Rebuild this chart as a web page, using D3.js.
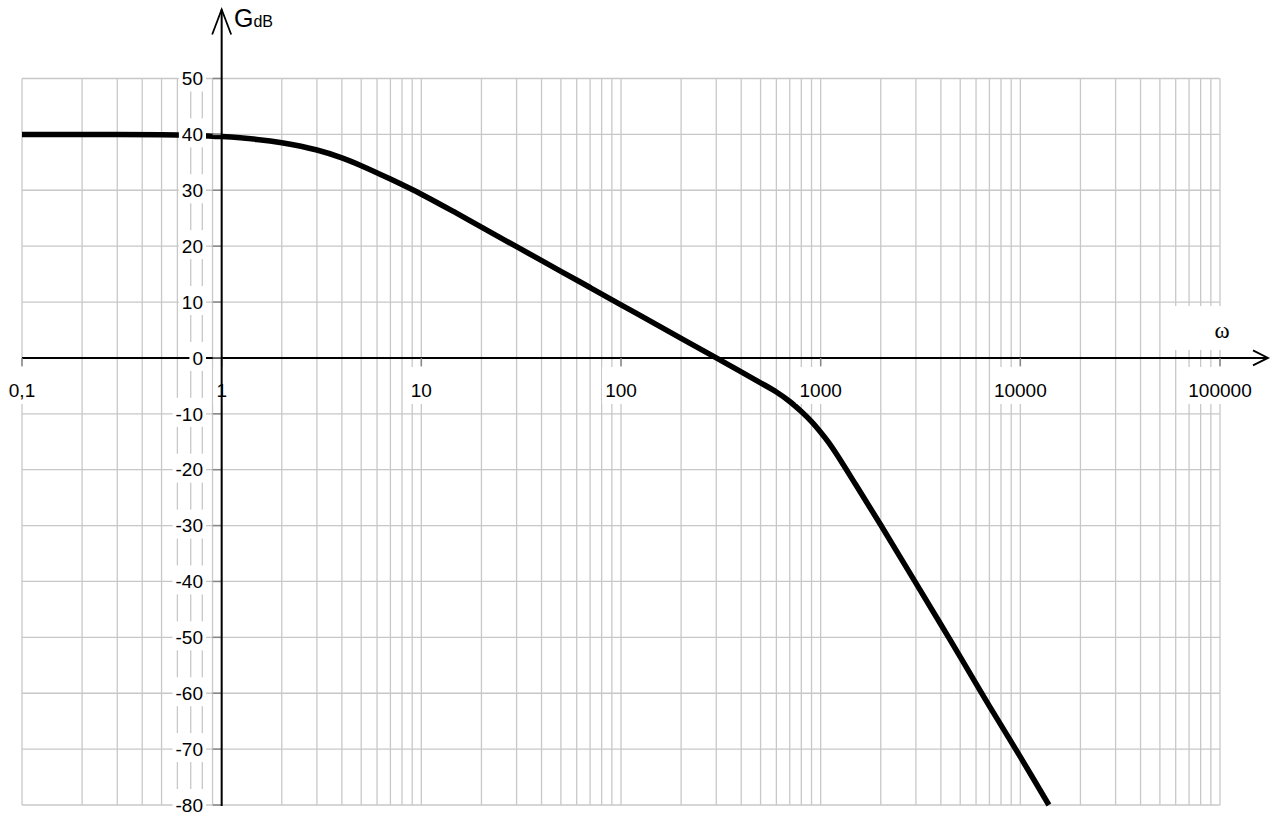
<!DOCTYPE html>
<html>
<head>
<meta charset="utf-8">
<script src="https://cdn.jsdelivr.net/npm/d3@7"></script>
<style>
  html, body { margin: 0; padding: 0; background: #fff; }
  svg { display: block; }
  text { font-family: "Liberation Sans", Arial, sans-serif; fill: #000; }
</style>
</head>
<body>
<svg id="chart" width="1282" height="816"></svg>
<script>
// ---- data ----
const omega = [0.1, 0.3, 0.5, 0.7, 1, 1.5, 2, 3, 4, 5, 7, 10, 15, 20, 30, 50, 70, 100, 150, 200, 300, 400, 500, 600, 700, 800, 900, 1000, 1100, 1200, 1500, 2000, 3000, 4000, 5000, 7000, 10000, 13900];
const gainDb = [40, 39.97, 39.92, 39.82, 39.6, 39.1, 38.5, 37.2, 35.8, 34.4, 32.0, 29.3, 25.9, 23.4, 19.9, 15.5, 12.6, 9.5, 6.0, 3.5, 0.0, -2.5, -4.45, -6.1, -7.8, -9.6, -11.4, -13.3, -15.2, -17.2, -22.7, -29.9, -40.3, -47.7, -53.5, -62.3, -71.4, -80];

const xTickValues = [0.1, 1, 10, 100, 1000, 10000, 100000];
const xTickLabels = ["0,1", "1", "10", "100", "1000", "10000", "100000"];
const yTickValues = [50, 40, 30, 20, 10, 0, -10, -20, -30, -40, -50, -60, -70, -80];
const yTickLabels = ["50", "40", "30", "20", "10", "0", "-10", "-20", "-30", "-40", "-50", "-60", "-70", "-80"];

// ---- layout ----
const svg = d3.select("#chart");
const x = d3.scaleLog().domain([0.1, 100000]).range([22, 1220]);
const y = d3.scaleLinear().domain([-80, 50]).range([805, 78.5]);
const x0 = x(1);     // vertical axis position
const y0 = y(0);     // horizontal axis position

// ---- grid ----
const minorX = [];
for (let e = -1; e <= 4; e++) {
  for (let m = 1; m <= 9; m++) minorX.push(m * Math.pow(10, e));
}
minorX.push(100000);

const grid = svg.append("g").attr("class", "grid")
  .attr("stroke", "#c8c8c8").attr("stroke-width", 1.3).attr("fill", "none");
grid.selectAll("line.v").data(minorX).join("line")
  .attr("class", "v")
  .attr("x1", d => x(d)).attr("x2", d => x(d))
  .attr("y1", y(50)).attr("y2", y(-80));
grid.selectAll("line.h").data(yTickValues).join("line")
  .attr("class", "h")
  .attr("x1", x(0.1)).attr("x2", x(100000))
  .attr("y1", d => y(d)).attr("y2", d => y(d));

// ---- curve ----
const pts = omega.map((w, i) => [w, gainDb[i]]);
const line = d3.line()
  .x(d => x(d[0])).y(d => y(d[1]))
  .curve(d3.curveCatmullRom.alpha(0.5));
svg.append("path")
  .datum(pts)
  .attr("d", line)
  .attr("fill", "none")
  .attr("stroke", "#000")
  .attr("stroke-width", 5.5)
  .attr("stroke-linejoin", "round");

// ---- horizontal axis ----
const axX = svg.append("g");
axX.append("line")
  .attr("x1", x(0.1)).attr("x2", 1268)
  .attr("y1", y0).attr("y2", y0)
  .attr("stroke", "#000").attr("stroke-width", 2);
axX.append("path")
  .attr("d", `M1253,${y0 - 7.5} L1268,${y0} L1253,${y0 + 7.5}`)
  .attr("fill", "none").attr("stroke", "#000").attr("stroke-width", 1.8);
axX.selectAll("line.tick").data(xTickValues).join("line")
  .attr("class", "tick")
  .attr("x1", d => x(d)).attr("x2", d => x(d))
  .attr("y1", y0).attr("y2", y0 + 8)
  .attr("stroke", "#888").attr("stroke-width", 1.5);

// ---- labels with white backgrounds ----
const labels = svg.append("g");
// x tick labels
xTickValues.forEach((v, i) => {
  const g = labels.append("g");
  const t = g.append("text")
    .attr("x", x(v)).attr("y", 397)
    .attr("text-anchor", "middle")
    .attr("font-size", 19)
    .text(xTickLabels[i]);
  const w = t.node().getComputedTextLength();
  g.insert("rect", "text")
    .attr("x", x(v) - w / 2 - 3).attr("y", 367)
    .attr("width", w + 6).attr("height", 37)
    .attr("fill", "#fff");
});
// y tick labels
yTickValues.forEach((v, i) => {
  const g = labels.append("g");
  const t = g.append("text")
    .attr("x", 203).attr("y", y(v) + 6.8)
    .attr("text-anchor", "end")
    .attr("font-size", 19)
    .text(yTickLabels[i]);
  const w = t.node().getComputedTextLength();
  g.insert("rect", "text")
    .attr("x", 203 - w - 3).attr("y", y(v) - 16)
    .attr("width", w + 6).attr("height", 29)
    .attr("fill", "#fff");
});
// y ticks
svg.append("g").selectAll("line").data(yTickValues).join("line")
  .attr("x1", x0 - 9).attr("x2", x0)
  .attr("y1", d => y(d)).attr("y2", d => y(d))
  .attr("stroke", "#888").attr("stroke-width", 1.5);

// omega label
svg.append("rect")
  .attr("x", 1171).attr("y", 306).attr("width", 70).attr("height", 44)
  .attr("fill", "#fff");
svg.append("text")
  .attr("x", 1222).attr("y", 338)
  .attr("text-anchor", "middle")
  .attr("font-size", 23)
  .style("font-family", "'Liberation Serif', 'Times New Roman', serif")
  .text("ω");

// ---- vertical axis ----
const axY = svg.append("g");
axY.append("line")
  .attr("x1", x0).attr("x2", x0)
  .attr("y1", 9.5).attr("y2", 806)
  .attr("stroke", "#000").attr("stroke-width", 2);
axY.append("path")
  .attr("d", `M${x0 - 9.5},34.5 L${x0},9.5 L${x0 + 9.5},34.5`)
  .attr("fill", "none").attr("stroke", "#000").attr("stroke-width", 1.8);

const gl = svg.append("text").attr("x", 234).attr("y", 27);
gl.append("tspan").attr("font-size", 25).text("G");
gl.append("tspan").attr("font-size", 16).text("dB");
</script>
</body>
</html>
